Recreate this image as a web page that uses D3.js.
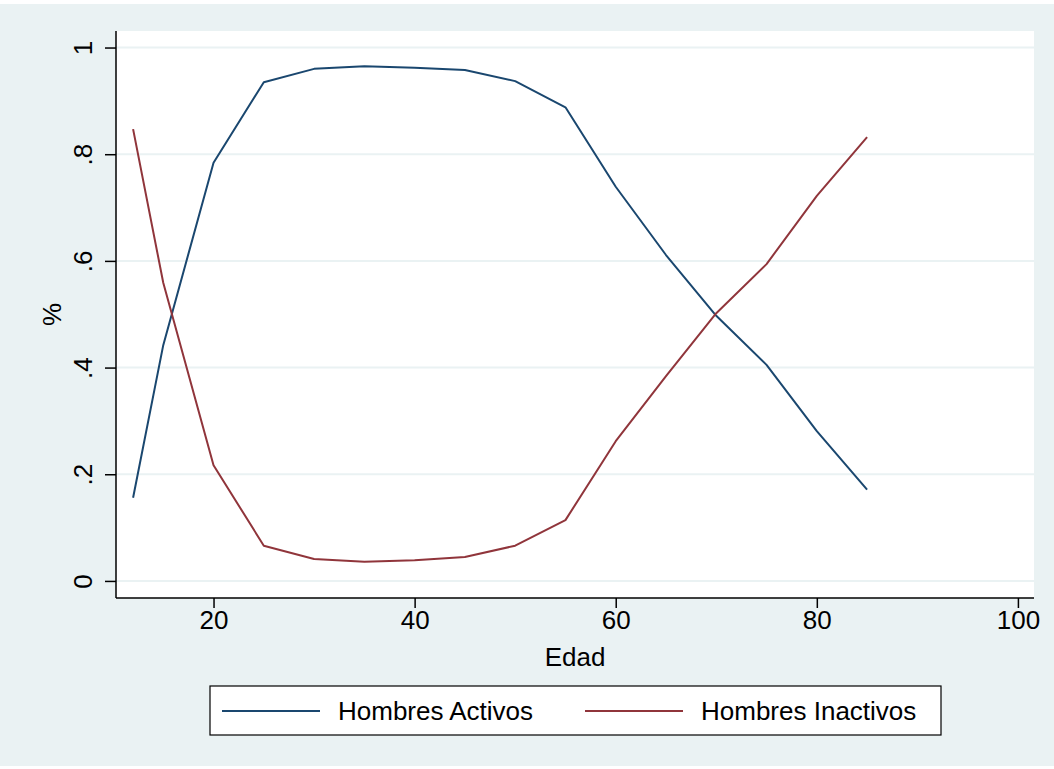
<!DOCTYPE html>
<html>
<head>
<meta charset="utf-8">
<script src="https://cdn.jsdelivr.net/npm/d3@7"></script>
<style>
  body { margin: 0; background: #fff; }
  svg { display: block; font-family: "Liberation Sans", Arial, sans-serif; }
</style>
</head>
<body>
<svg id="chart"></svg>
<script>
// ages and shares
const edad = [12, 15, 20, 25, 30, 35, 40, 45, 50, 55, 60, 65, 70, 75, 80, 85];
const activos = [0.156, 0.442, 0.784, 0.935, 0.960, 0.965, 0.962, 0.958, 0.937, 0.888, 0.739, 0.611, 0.497, 0.405, 0.281, 0.171];
const inactivos = [0.847, 0.559, 0.217, 0.066, 0.041, 0.036, 0.039, 0.045, 0.066, 0.114, 0.262, 0.384, 0.502, 0.594, 0.722, 0.832];
const xTicks = [20, 40, 60, 80, 100];
const yTicks = [0, 0.2, 0.4, 0.6, 0.8, 1];
const yTickLabels = ["0", ".2", ".4", ".6", ".8", "1"];
const seriesNames = ["Hombres Activos", "Hombres Inactivos"];
const seriesColors = ["#1a476f", "#90353b"];

const width = 1054;
const height = 769;
const plot = {left: 116, right: 1034, top: 31, bottom: 598};
const fontSize = 26;

const svg = d3.select("#chart")
    .attr("width", width)
    .attr("height", height);

// outer background
svg.append("rect")
    .attr("x", 0).attr("y", 4)
    .attr("width", width).attr("height", 762)
    .attr("fill", "#eaf2f3");

svg.append("rect")
    .attr("x", plot.left).attr("y", plot.top)
    .attr("width", plot.right - plot.left).attr("height", plot.bottom - plot.top)
    .attr("fill", "#fff");

const x = d3.scaleLinear()
    .domain([10.3, 101.6])
    .range([plot.left, plot.right]);

const y = d3.scaleLinear()
    .domain([-0.032, 1.031])
    .range([plot.bottom, plot.top]);

// gridlines
svg.append("g")
    .selectAll("line")
    .data(yTicks)
    .join("line")
    .attr("x1", plot.left).attr("x2", plot.right)
    .attr("y1", d => y(d)).attr("y2", d => y(d))
    .attr("stroke", "#eaf2f3")
    .attr("stroke-width", 2);

// y axis
const yAxis = svg.append("g")
    .attr("transform", `translate(${plot.left},0)`)
    .call(d3.axisLeft(y).tickValues(yTicks).tickSize(11).tickPadding(12)
        .tickFormat((d, i) => yTickLabels[i]));
yAxis.select(".domain").attr("d", `M0,${plot.top}V${plot.bottom}`).attr("stroke", "#000").attr("stroke-width", 1.5);
yAxis.selectAll(".tick line").attr("stroke", "#000").attr("stroke-width", 1.5);
yAxis.selectAll(".tick text")
    .attr("font-size", fontSize)
    .attr("fill", "#000")
    .attr("transform", d => `rotate(-90, -24, 0)`)
    .attr("x", -24).attr("y", 0).attr("dy", 0)
    .attr("text-anchor", "middle");

// x axis
const xAxis = svg.append("g")
    .attr("transform", `translate(0,${plot.bottom})`)
    .call(d3.axisBottom(x).tickValues(xTicks).tickSize(10).tickPadding(3));
xAxis.select(".domain").attr("d", `M${plot.left},0H${plot.right}`).attr("stroke", "#000").attr("stroke-width", 1.5);
xAxis.selectAll(".tick line").attr("stroke", "#000").attr("stroke-width", 1.5);
xAxis.selectAll(".tick text")
    .attr("font-size", fontSize)
    .attr("fill", "#000")
    .attr("dy", "0.71em");

// axis titles
svg.append("text")
    .attr("x", (plot.left + plot.right) / 2)
    .attr("y", 666)
    .attr("text-anchor", "middle")
    .attr("font-size", fontSize)
    .text("Edad");

svg.append("text")
    .attr("transform", `translate(61,${(plot.top + plot.bottom) / 2}) rotate(-90)`)
    .attr("text-anchor", "middle")
    .attr("font-size", fontSize)
    .text("%");

// series
const line = d3.line()
    .x((d, i) => x(edad[i]))
    .y(d => y(d));

[activos, inactivos].forEach((vals, i) => {
    svg.append("path")
        .datum(vals)
        .attr("d", line)
        .attr("fill", "none")
        .attr("stroke", seriesColors[i])
        .attr("stroke-width", 2)
        .attr("stroke-linejoin", "round");
});

// legend
const legend = svg.append("g").attr("class", "legend");
legend.append("rect")
    .attr("x", 210).attr("y", 686)
    .attr("width", 731).attr("height", 49)
    .attr("fill", "#fff")
    .attr("stroke", "#000")
    .attr("stroke-width", 1.2);

const legendX = [222, 585];
seriesNames.forEach((name, i) => {
    legend.append("line")
        .attr("x1", legendX[i]).attr("x2", legendX[i] + 98)
        .attr("y1", 711).attr("y2", 711)
        .attr("stroke", seriesColors[i])
        .attr("stroke-width", 2);
    legend.append("text")
        .attr("x", legendX[i] + 116)
        .attr("y", 720)
        .attr("font-size", fontSize)
        .text(name);
});
</script>
</body>
</html>
